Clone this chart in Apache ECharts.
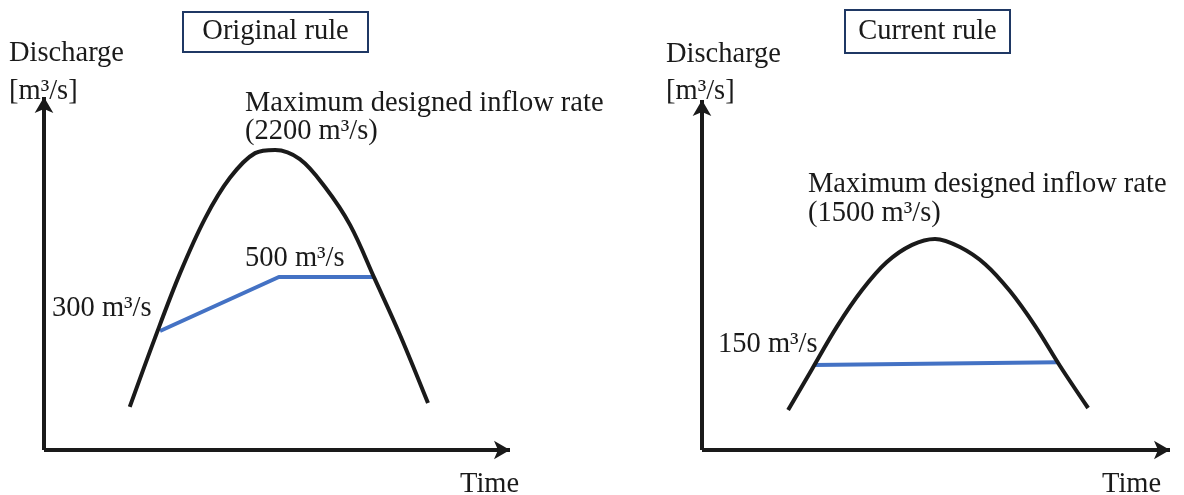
<!DOCTYPE html>
<html>
<head>
<meta charset="utf-8">
<script src="https://cdn.jsdelivr.net/npm/echarts@6/dist/echarts.min.js"></script>
<style>
html,body{margin:0;padding:0;background:#fff;}
#c{width:1184px;height:495px;}
</style>
</head>
<body>
<div id="c"></div>
<script>
// Schematic data (arbitrary units, 0-100 on both axes of each panel)
const originalHydrograph = [
  [18.4, 12.2], [23.8, 31.7], [29.2, 50.1], [34.6, 65.7], [39.9, 77.1],
  [45.3, 84.1], [49.6, 85.0], [54.9, 82.4], [60.3, 74.5], [65.7, 63.7],
  [71.0, 48.4], [76.4, 32.6], [82.4, 13.3]
];
const originalRelease = [[24.9, 33.7], [50.4, 49.0], [70.6, 49.0]];

const currentHydrograph = [
  [18.4, 11.4], [23.5, 23.1], [28.9, 35.4], [34.2, 45.7], [39.5, 53.7],
  [44.9, 58.6], [49.8, 60.3], [55.1, 58.0], [60.5, 53.1], [65.8, 45.4],
  [71.2, 35.4], [76.5, 24.0], [82.5, 12.0]
];
const currentRelease = [[23.9, 24.3], [76.1, 25.1]];

const panelTitles = ['Original rule', 'Current rule'];
const yAxisName = ['Discharge', '[m³/s]'];
const xAxisName = 'Time';
const maxLabel = 'Maximum designed inflow rate';
const originalMax = '(2200 m³/s)';
const currentMax = '(1500 m³/s)';
const originalLabels = ['300 m³/s', '500 m³/s'];
const currentLabels = ['150 m³/s'];

const INK = '#1a1a1a';
const BLUE = '#4472c4';
const FONT = '"Liberation Serif", "Times New Roman", serif';
const FS = 28.5;

function axisPair(gridIndex) {
  const line = {
    show: true,
    symbol: ['none', 'arrow'],
    symbolSize: [14, 16],
    lineStyle: { color: INK, width: 4, cap: 'butt' }
  };
  return {
    x: {
      type: 'value', gridIndex, min: 0, max: 100,
      axisLine: line, axisTick: { show: false }, axisLabel: { show: false },
      splitLine: { show: false }
    },
    y: {
      type: 'value', gridIndex, min: 0, max: 100,
      axisLine: line, axisTick: { show: false }, axisLabel: { show: false },
      splitLine: { show: false }
    }
  };
}
const a0 = axisPair(0), a1 = axisPair(1);

function txt(str, x, y, extra) {
  return {
    type: 'text', silent: true,
    style: Object.assign({
      text: str, x, y, fill: INK,
      font: FS + 'px ' + FONT,
      verticalAlign: 'top', align: 'left'
    }, extra || {})
  };
}
function box(x, y, w, h) {
  return {
    type: 'rect', silent: true,
    shape: { x, y, width: w, height: h },
    style: { fill: '#fff', stroke: '#1f3864', lineWidth: 2 }
  };
}

const hydroStyle = { color: INK, width: 4, join: 'round' };
const chart = echarts.init(document.getElementById('c'), null, { renderer: 'canvas' });
chart.setOption({
  animation: false,
  backgroundColor: '#fff',
  grid: [
    { left: 44, top: 97, width: 466, height: 353 },
    { left: 702, top: 100, width: 468, height: 350 }
  ],
  xAxis: [a0.x, a1.x],
  yAxis: [a0.y, a1.y],
  series: [
    { type: 'line', xAxisIndex: 0, yAxisIndex: 0, data: originalHydrograph, smooth: 0.35,
      showSymbol: false, lineStyle: hydroStyle, z: 3 },
    { type: 'line', xAxisIndex: 0, yAxisIndex: 0, data: originalRelease,
      showSymbol: false, lineStyle: { color: BLUE, width: 4 }, z: 2 },
    { type: 'line', xAxisIndex: 1, yAxisIndex: 1, data: currentHydrograph, smooth: 0.35,
      showSymbol: false, lineStyle: hydroStyle, z: 3 },
    { type: 'line', xAxisIndex: 1, yAxisIndex: 1, data: currentRelease,
      showSymbol: false, lineStyle: { color: BLUE, width: 4 }, z: 2 }
  ],
  graphic: [
    box(183, 12, 185, 40),
    txt(panelTitles[0], 275.5, 32, { align: 'center', verticalAlign: 'middle' }),
    txt(yAxisName[0], 9, 39),
    txt(yAxisName[1], 9, 77),
    txt(maxLabel, 245, 89),
    txt(originalMax, 245, 117),
    txt(originalLabels[1], 245, 244),
    txt(originalLabels[0], 52, 294),
    txt(xAxisName, 460, 470),

    box(845, 10, 165, 43),
    txt(panelTitles[1], 927.5, 31.5, { align: 'center', verticalAlign: 'middle' }),
    txt(yAxisName[0], 666, 40),
    txt(yAxisName[1], 666, 77),
    txt(maxLabel, 808, 170),
    txt(currentMax, 808, 199),
    txt(currentLabels[0], 718, 330),
    txt(xAxisName, 1102, 470)
  ]
});
</script>
</body>
</html>
